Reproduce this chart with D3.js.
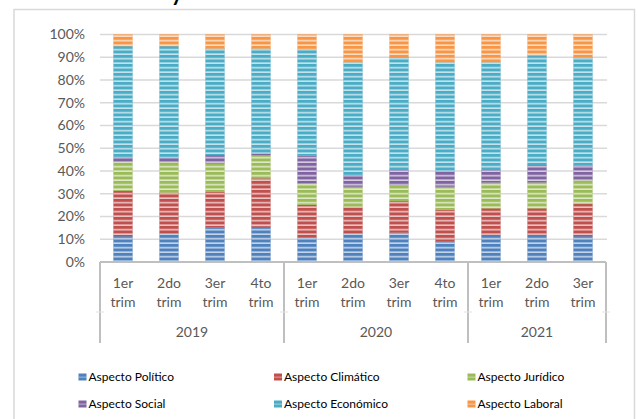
<!DOCTYPE html>
<html>
<head>
<meta charset="utf-8">
<script src="https://cdn.jsdelivr.net/npm/d3@7"></script>
<style>
  html, body { margin: 0; padding: 0; background: #fff; }
  svg { display: block; font-family: Lato, "Open Sans", sans-serif; }
</style>
</head>
<body>
<svg id="chart" width="638" height="419"></svg>
<script>
// ---- data ----
const quarters = ["1er trim", "2do trim", "3er trim", "4to trim", "1er trim", "2do trim", "3er trim", "4to trim", "1er trim", "2do trim", "3er trim"];
const years = ["2019", "2020", "2021"];
const yearCounts = [4, 4, 3];
const seriesNames = ["Aspecto Político", "Aspecto Climático", "Aspecto Jurídico", "Aspecto Social", "Aspecto Económico", "Aspecto Laboral"];
const politico  = [11.4, 12.6, 15.1, 15.5, 10.9, 12.6, 12.9, 8.9, 11.9, 11.9, 11.4];
const climatico = [19.9, 17.9, 15.7, 21.3, 14.2, 11.7, 13.9, 14.0, 11.7, 11.7, 14.1];
const juridico  = [12.8, 13.5, 12.6, 10.2, 9.5, 8.8, 7.0, 10.2, 11.3, 11.4, 10.5];
const social    = [1.9, 1.8, 3.6, 0.8, 12.1, 5.1, 6.6, 6.9, 5.5, 7.6, 6.3];
const economico = [48.9, 49.1, 46.8, 46.0, 46.6, 49.6, 49.6, 47.8, 47.4, 48.1, 47.5];
const laboral   = [5.1, 5.1, 6.2, 6.2, 6.6, 12.2, 10.0, 12.2, 12.2, 9.3, 10.2];
const yTicks = [0, 0.1, 0.2, 0.3, 0.4, 0.5, 0.6, 0.7, 0.8, 0.9, 1.0];
const colors = ["#4F81BD", "#C0504D", "#9BBB59", "#8064A2", "#4BACC6", "#F79646"];

// ---- build table ----
const seriesValues = [politico, climatico, juridico, social, economico, laboral];
const rows = quarters.map((q, i) => {
  const r = { idx: i };
  seriesNames.forEach((s, k) => r[s] = seriesValues[k][i]);
  return r;
});
const stacked = d3.stack().keys(seriesNames).offset(d3.stackOffsetExpand)(rows);

const svg = d3.select("#chart");
const pL = 100, pR = 606, pT = 34.5, pB = 262;

// chart border
svg.append("rect").attr("x", 14).attr("y", 9.5).attr("width", 620.5).attr("height", 430)
  .attr("fill", "#fff").attr("stroke", "#d9d9d9").attr("stroke-width", 1.5);

// cut title glyph (title above the visible area)
svg.append("text").attr("x", 171).attr("y", 0.5).attr("font-size", 22).attr("font-weight", 700)
  .attr("fill", "#000").text("y");

const x = d3.scaleBand().domain(d3.range(quarters.length)).range([pL, pR])
  .paddingInner(0.587).paddingOuter(0.2935);
const y = d3.scaleLinear().domain([0, 1]).range([pB, pT]);

// patterns
const defs = svg.append("defs");
colors.forEach((c, k) => {
  const p = defs.append("pattern").attr("id", "pat" + k).attr("patternUnits", "userSpaceOnUse")
    .attr("width", 10).attr("height", 4.5).attr("y", pB);
  p.append("rect").attr("width", 10).attr("height", 4.5).attr("fill", c);
  p.append("rect").attr("y", 3.0).attr("width", 10).attr("height", 1.4).attr("fill", "#fff").attr("opacity", 0.75);
});

// gridlines
svg.append("g").selectAll("line").data(yTicks.filter(t => t > 0)).join("line")
  .attr("x1", pL).attr("x2", pR + 1).attr("y1", d => y(d)).attr("y2", d => y(d))
  .attr("stroke", "#d9d9d9").attr("stroke-width", 1.5);

// y axis labels
const yAxis = d3.axisLeft(y).tickValues(yTicks).tickFormat(d3.format(".0%")).tickSize(0).tickPadding(15);
const ya = svg.append("g").attr("transform", `translate(${pL},0)`).call(yAxis);
ya.select(".domain").remove();
ya.selectAll("text").attr("font-size", 14).attr("fill", "#595959").attr("font-family", "Lato, sans-serif");

// bars
svg.append("g").selectAll("g").data(stacked).join("g")
  .each(function(layer, k) {
    d3.select(this).selectAll("rect").data(layer).join("rect")
      .attr("x", d => x(d.data.idx))
      .attr("width", x.bandwidth())
      .attr("y", d => y(d[1]))
      .attr("height", d => Math.max(0, y(d[0]) - y(d[1])))
      .attr("fill", `url(#pat${k})`)
      .attr("stroke", colors[k]).attr("stroke-opacity", 0.25).attr("stroke-width", 1);
  });

// category axis box
const ax = svg.append("g").attr("stroke", "#bfbfbf").attr("stroke-width", 2);
ax.append("line").attr("x1", pL).attr("x2", pR).attr("y1", pB).attr("y2", pB);
const step = x.step();
let acc = 0;
const bounds = [pL];
yearCounts.forEach(c => { acc += c; bounds.push(pL + step * acc); });
bounds[bounds.length - 1] = pR;
bounds.forEach(b => {
  ax.append("line").attr("x1", b).attr("x2", b).attr("y1", pB).attr("y2", 343);
});
// small light stubs at level separator
svg.append("g").selectAll("line").data(bounds).join("line")
  .attr("x1", d => d - 4).attr("x2", d => d + 4).attr("y1", 312).attr("y2", 312)
  .attr("stroke", "#e3e3e3").attr("stroke-width", 1);

// quarter labels
const ql = svg.append("g").attr("font-size", 14).attr("fill", "#595959").attr("text-anchor", "middle");
quarters.forEach((q, i) => {
  const parts = q.split(" ");
  const cx = x(i) + x.bandwidth() / 2;
  ql.append("text").attr("x", cx).attr("y", 288).text(parts[0]);
  ql.append("text").attr("x", cx).attr("y", 307).text(parts[1]);
});

// year labels
const yl = svg.append("g").attr("font-size", 14).attr("fill", "#595959").attr("text-anchor", "middle");
years.forEach((yr, j) => {
  yl.append("text").attr("x", (bounds[j] + bounds[j + 1]) / 2).attr("y", 337).text(yr);
});

// legend
const legX = [78.5, 274, 467.5];
const legY = [377, 404];
const lg = svg.append("g").attr("font-size", 12).attr("fill", "#000");
seriesNames.forEach((s, k) => {
  const cx = legX[k % 3], cy = legY[Math.floor(k / 3)];
  lg.append("rect").attr("x", cx).attr("y", cy - 3.5).attr("width", 8).attr("height", 7).attr("fill", colors[k]);
  lg.append("rect").attr("x", cx).attr("y", cy - 0.3).attr("width", 8).attr("height", 0.8).attr("fill", "#fff").attr("opacity", 0.6);
  lg.append("text").attr("x", cx + 10).attr("y", cy + 4.2).text(s);
});
</script>
</body>
</html>
